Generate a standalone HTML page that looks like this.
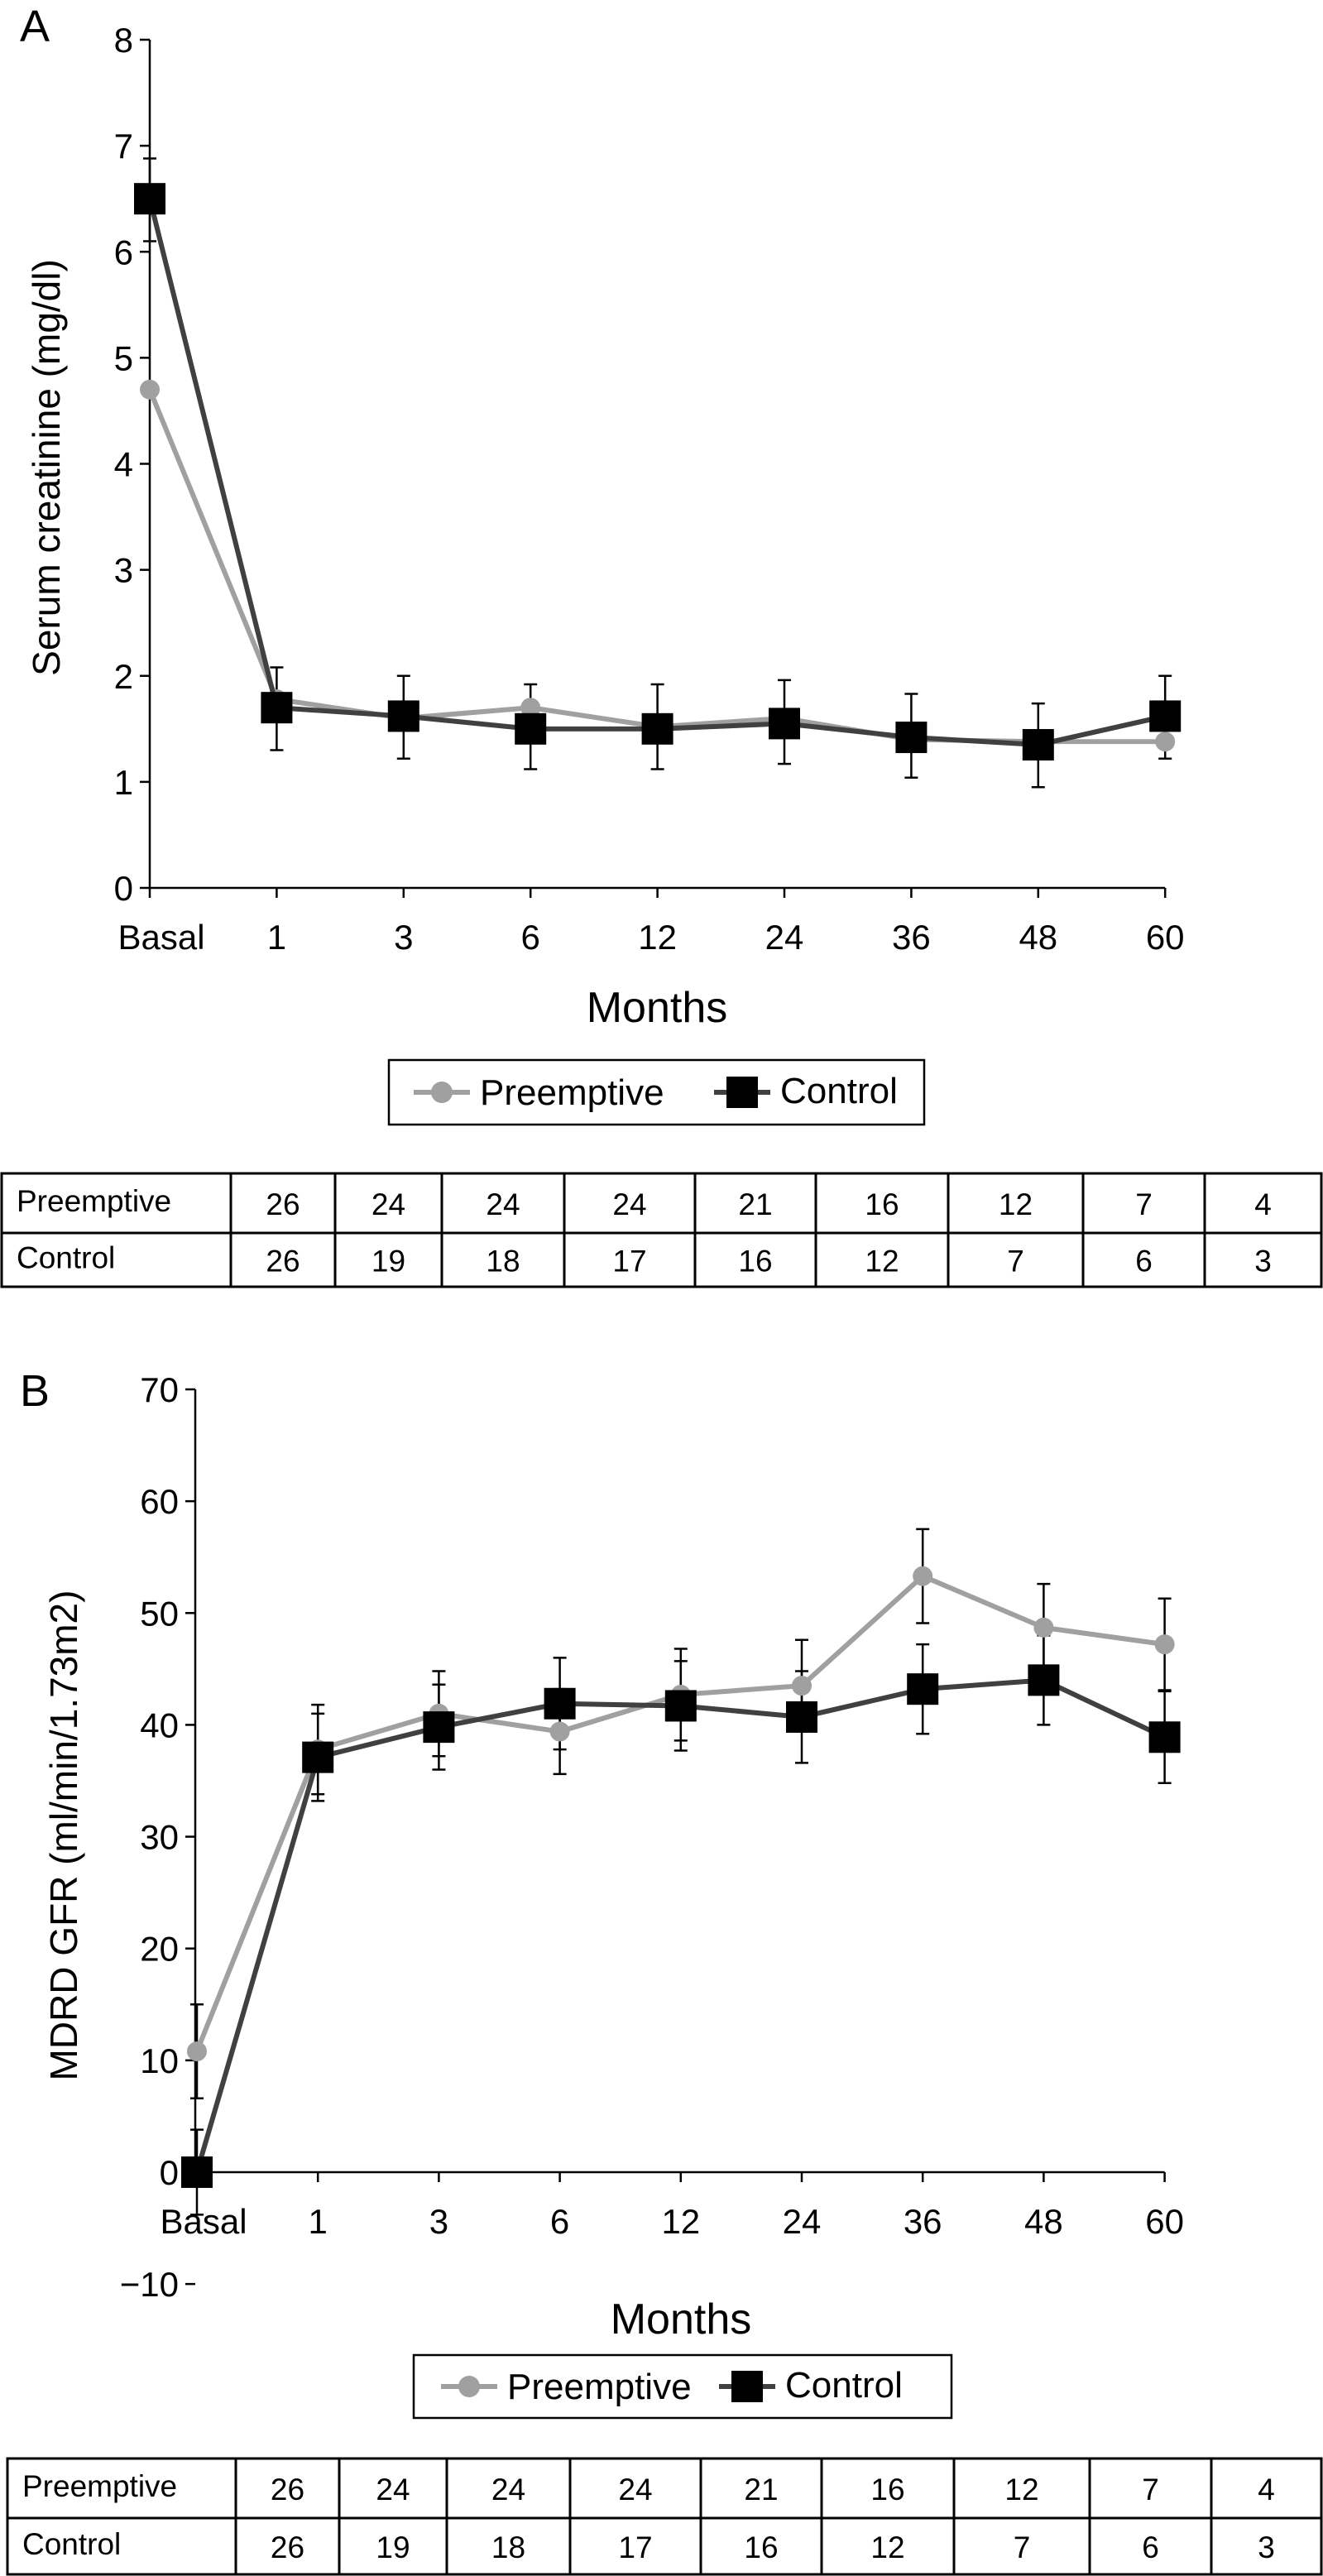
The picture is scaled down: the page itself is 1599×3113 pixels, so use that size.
<!DOCTYPE html>
<html><head><meta charset="utf-8">
<style>
html,body{margin:0;padding:0;background:#fff;}
svg{display:block;font-family:"Liberation Sans",Arial,sans-serif;}
</style></head>
<body>
<svg id="fig" width="1599" height="3113" viewBox="0 0 1599 3113" xmlns="http://www.w3.org/2000/svg">
<text x="24" y="50" font-size="54">A</text>
<text x="24" y="1699" font-size="54">B</text>
</svg>
<script>
const categories = ["Basal","1","3","6","12","24","36","48","60"];
// Panel A: serum creatinine
const aPreemptive = [4.7,1.78,1.6,1.7,1.52,1.6,1.4,1.38,1.38];
const aControl = [6.5,1.7,1.62,1.5,1.5,1.55,1.42,1.35,1.62];
const aErrHigh = [6.88,2.08,2.0,1.92,1.92,1.96,1.83,1.74,2.0];
const aErrLow = [6.1,1.3,1.22,1.12,1.12,1.17,1.04,0.95,1.22];
const aTicks = [0,1,2,3,4,5,6,7,8];
// Panel B: MDRD GFR
const bPreemptive = [10.8,37.8,41,39.4,42.7,43.5,53.3,48.7,47.2];
const bControl = [0,37.1,39.8,41.9,41.7,40.7,43.2,44,38.9];
const bPreErr = [4.2,4,3.8,3.8,4.1,4.1,4.2,3.9,4.1];
const bCtlErr = [3.8,3.9,3.8,4.1,4,4.1,4,4,4.1];
const bTicks = [-10,0,10,20,30,40,50,60,70];
// Tables
const tablePreemptive = [26,24,24,24,21,16,12,7,4];
const tableControl = [26,19,18,17,16,12,7,6,3];

const svg = document.getElementById('fig');
const NS = "http://www.w3.org/2000/svg";
function mk(tag, attrs, parent){
  const e = document.createElementNS(NS, tag);
  for (const k in attrs) e.setAttribute(k, attrs[k]);
  (parent||svg).appendChild(e);
  return e;
}

function drawChart(cfg){
  const g = mk('g', {});
  
  
  const y = v => cfg.y0 + (v - cfg.vmin) * (cfg.y1 - cfg.y0) / (cfg.vmax - cfg.vmin);
  const x = i => cfg.xs0 + i * cfg.xstep;
  // axes
  const ya = mk('line', {x1:cfg.ax, y1:y(cfg.vmax), x2:cfg.ax, y2:y(cfg.vmin), stroke:'#000','stroke-width':2.5}, g);
  
  
  const xa = mk('line', {x1:cfg.ax, y1:y(0), x2:x(categories.length-1), y2:y(0), stroke:'#000','stroke-width':2.5}, g);
  
  
  cfg.ticks.forEach(t => {
    mk('line', {x1:cfg.ax-12, y1:y(t), x2:cfg.ax, y2:y(t), stroke:'#000','stroke-width':2.5}, g);
    const lb = mk('text', {x:cfg.ax-20, y:y(t)+15, 'font-size':42, 'text-anchor':'end'}, g);
    lb.textContent = t < 0 ? '\u2212' + Math.abs(t) : String(t);
    
    
  });
  categories.forEach((c, i) => {
    mk('line', {x1:x(i), y1:y(0), x2:x(i), y2:y(0)+12, stroke:'#000','stroke-width':2.5}, g);
    const lb = mk('text', {x:x(i) + (i===0 ? cfg.basalOff : 0), y:cfg.xlabY, 'font-size':42, 'text-anchor':'middle'}, g);
    lb.textContent = c;
    
    
  });
  // error bars
  cfg.errs.forEach(er => {
    er.hi.forEach((h, i) => {
      const lo = er.lo[i];
      const eb = mk('path', {d:`M${x(i)},${y(h)}V${y(lo)}M${x(i)-8},${y(h)}H${x(i)+8}M${x(i)-8},${y(lo)}H${x(i)+8}`, stroke:'#000','stroke-width':2.5, fill:'none'}, g);
      
      
    });
  });
  // preemptive series
  const pp = cfg.pre.map((v,i)=>`${x(i)},${y(v)}`).join(' ');
  const pl = mk('polyline', {points:pp, fill:'none', stroke:'#a0a0a0', 'stroke-width':6}, g);
  
  
  cfg.pre.forEach((v,i) => {
    const c = mk('circle', {cx:x(i), cy:y(v), r:12, fill:'#a0a0a0'}, g);
    
    
  });
  const cp = cfg.ctl.map((v,i)=>`${x(i)},${y(v)}`).join(' ');
  const cl = mk('polyline', {points:cp, fill:'none', stroke:'#404040', 'stroke-width':6}, g);
  
  
  cfg.ctl.forEach((v,i) => {
    const s = mk('rect', {x:x(i)-19, y:y(v)-19, width:38, height:38, fill:'#000'}, g);
    
    
  });
  // titles
  const yt = mk('text', {x:0, y:0, 'font-size':46, 'text-anchor':'middle', transform:`translate(${cfg.ytX},${cfg.ytY}) rotate(-90)`}, g);
  yt.textContent = cfg.ytitle;
  
  
  const xt = mk('text', {x:cfg.mX, y:cfg.mY, 'font-size':52, 'text-anchor':'middle'}, g);
  xt.textContent = 'Months';
  
  
  // legend
  const L = cfg.leg;
  const lg = mk('g', {}, g);
  
  
  mk('rect', {x:L.x, y:L.y, width:L.w, height:L.h, fill:'#fff', stroke:'#000','stroke-width':2.5}, lg);
  const cy = L.y + L.h/2;
  mk('line', {x1:L.p1, y1:cy, x2:L.p1+68, y2:cy, stroke:'#a0a0a0','stroke-width':6}, lg);
  mk('circle', {cx:L.p1+34, cy:cy, r:13, fill:'#a0a0a0'}, lg);
  const t1 = mk('text', {x:L.p1+80, y:cy+15, 'font-size':44}, lg);
  t1.textContent = 'Preemptive';
  
  
  mk('line', {x1:L.c1, y1:cy, x2:L.c1+68, y2:cy, stroke:'#404040','stroke-width':6}, lg);
  mk('rect', {x:L.c1+34-19, y:cy-19, width:38, height:38, fill:'#000'}, lg);
  const t2 = mk('text', {x:L.c1+80, y:cy+13, 'font-size':44}, lg);
  t2.textContent = 'Control';
  
  
  // table
  const T = cfg.tab;
  const tg = mk('g', {}, g);
  
  
  mk('rect', {x:T.cols[0], y:T.rows[0], width:T.cols[T.cols.length-1]-T.cols[0], height:T.rows[2]-T.rows[0], fill:'none', stroke:'#000','stroke-width':3}, tg);
  mk('line', {x1:T.cols[0], y1:T.rows[1], x2:T.cols[T.cols.length-1], y2:T.rows[1], stroke:'#000','stroke-width':3}, tg);
  T.cols.slice(1,-1).forEach(cx => mk('line', {x1:cx, y1:T.rows[0], x2:cx, y2:T.rows[2], stroke:'#000','stroke-width':3}, tg));
  [['Preemptive', tablePreemptive],['Control', tableControl]].forEach((r, ri) => {
    const ry = (T.rows[ri] + T.rows[ri+1]) / 2;
    const lt = mk('text', {x:T.cols[0]+18, y:ry+10, 'font-size':37}, tg);
    lt.textContent = r[0];
    
    
    r[1].forEach((v, ci) => {
      const tx = mk('text', {x:(T.cols[ci+1]+T.cols[ci+2])/2, y:ry+14, 'font-size':37, 'text-anchor':'middle'}, tg);
      tx.textContent = String(v);
      
      
    });
  });
}

drawChart({
  name:'chart-a-serum-creatinine', ax:181, y0:1073, y1:48, vmin:0, vmax:8, xs0:181, xstep:153.4,
  ticks:aTicks, pre:aPreemptive, ctl:aControl,
  errs:[{hi:aErrHigh, lo:aErrLow}],
  basalOff:14, xlabY:1147, ytitle:'Serum creatinine (mg/dl)', ytX:72, ytY:565, mX:794, mY:1235,
  leg:{x:470, y:1281, w:647, h:78, p1:500, c1:863},
  tab:{cols:[2,279,405,534,682,840,986,1146,1309,1456,1597], rows:[1418,1490,1555]}
});
drawChart({
  name:'chart-b-mdrd-gfr', ax:236, y0:2625, y1:1679, vmin:0, vmax:70, xs0:238, xstep:146.2,
  ticks:bTicks, pre:bPreemptive, ctl:bControl,
  errs:[{hi:bPreemptive.map((v,i)=>v+bPreErr[i]), lo:bPreemptive.map((v,i)=>v-bPreErr[i])},
        {hi:bControl.map((v,i)=>v+bCtlErr[i]), lo:bControl.map((v,i)=>v-bCtlErr[i])}],
  basalOff:8, xlabY:2699, ytitle:'MDRD GFR (ml/min/1.73m2)', ytX:93, ytY:2218, mX:823, mY:2820,
  leg:{x:500, y:2846, w:650, h:76, p1:533, c1:869},
  tab:{cols:[9,285,410,540,689,847,993,1153,1317,1464,1597], rows:[2971,3043,3111]}
});
</script>
</body></html>
